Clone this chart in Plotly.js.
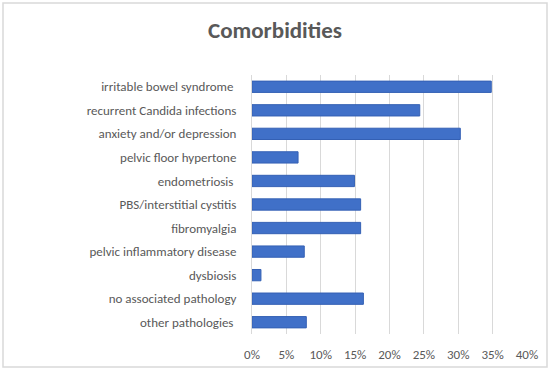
<!DOCTYPE html>
<html>
<head>
<meta charset="utf-8">
<script src="https://cdn.plot.ly/plotly-3.0.1.min.js"></script>
<style>html,body{margin:0;padding:0;background:#fff;}#chart{width:550px;height:370px;}</style>
</head>
<body>
<div id="chart"></div>
<script>
const categories = [
  "irritable bowel syndrome ",
  "recurrent Candida infections",
  "anxiety and/or depression",
  "pelvic floor hypertone",
  "endometriosis ",
  "PBS/interstitial cystitis",
  "fibromyalgia",
  "pelvic inflammatory disease",
  "dysbiosis",
  "no associated pathology",
  "other pathologies "
];
const values = [34.8, 24.4, 30.3, 6.7, 14.9, 15.8, 15.8, 7.6, 1.3, 16.2, 7.9];
const tickValues = [0, 5, 10, 15, 20, 25, 30, 35, 40];
const tickLabels = ["0%", "5%", "10%", "15%", "20%", "25%", "30%", "35%", "40%"];

const font = "Carlito, Calibri, Lato, sans-serif";
const L = 252, R = 23, T = 75, B = 36, W = 550, H = 370;
const pw = W - L - R, ph = H - T - B;
const px = v => (v - L) / pw;
const py = v => (H - B - v) / ph;

Plotly.newPlot("chart", [{
  type: "bar",
  orientation: "h",
  y: categories,
  x: values,
  marker: {color: "#4070c8", line: {color: "#3460b4", width: 1}},
  hoverinfo: "skip"
}], {
  width: W, height: H,
  margin: {l: L, r: R, t: T, b: B, pad: 0},
  paper_bgcolor: "#fff", plot_bgcolor: "#fff",
  bargap: 0.52,
  showlegend: false,
  title: {text: "<b>Comorbidities</b>", x: 0.5, xref: "container", xanchor: "center", y: 1 - 30/H, yanchor: "middle",
          font: {family: font, size: 23, color: "#595959"}},
  xaxis: {
    range: [0, 40], tickvals: tickValues, ticktext: tickLabels,
    showgrid: true, gridcolor: "#d9d9d9", gridwidth: 1, zeroline: false,
    showline: false, ticks: "outside", ticklen: 8, tickcolor: "rgba(0,0,0,0)",
    tickfont: {family: font, size: 13, color: "#595959"}, fixedrange: true
  },
  yaxis: {
    autorange: "reversed", showgrid: false, zeroline: false,
    showline: true, linecolor: "#d9d9d9", linewidth: 1,
    ticks: "outside", ticklen: 12, tickcolor: "rgba(0,0,0,0)",
    tickfont: {family: font, size: 13, color: "#595959"}, fixedrange: true
  },
  shapes: [{
    type: "rect", xref: "paper", yref: "paper",
    x0: px(3), x1: px(547), y0: py(367), y1: py(3),
    line: {color: "#d9d9d9", width: 1.5}, fillcolor: "rgba(0,0,0,0)", layer: "below"
  }]
}, {displayModeBar: false, staticPlot: true});
</script>
</body>
</html>
